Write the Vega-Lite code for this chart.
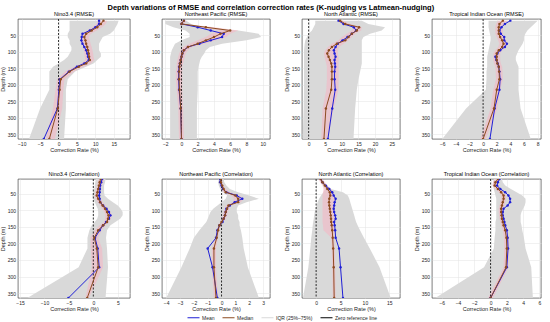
{
"$schema": "https://vega.github.io/schema/vega-lite/v6.json",
"padding": {"left": 0, "top": 3, "right": 2, "bottom": 2},
"background": "white",
"title": {"text": "Depth variations of RMSE and correlation correction rates (K-nudging vs Latmean-nudging)", "fontSize": 7.5, "fontWeight": "bold", "font": "Liberation Sans", "anchor": "middle", "offset": 0.5, "color": "#000000"},
"config": {
  "font": "Liberation Sans",
  "view": {"stroke": "#262626", "strokeWidth": 0.6},
  "axis": {"labelFontSize": 5, "titleFontSize": 5.5, "titleFontWeight": "normal", "labelColor": "#262626", "titleColor": "#262626", "grid": true, "gridColor": "#e2e2e2", "gridWidth": 0.5, "domain": false, "ticks": false, "labelPadding": 2.5, "titlePadding": 1.5, "labelOverlap": false, "labelBound": false, "tickCount": 20},
  "axisX": {"labelPadding": 2, "titlePadding": 1.5},
  "title": {"fontSize": 5.5, "fontWeight": "normal", "offset": 1, "color": "#000000"}
},
"datasets": {"d": [
{"p":"A","d":5,"mean":11,"med":12.2,"q25":3,"q75":16.3,"lo":10.8,"hi":13.2},
{"p":"A","d":15,"mean":11,"med":11.5,"q25":3,"q75":16,"lo":10.2,"hi":12.8},
{"p":"A","d":25,"mean":10,"med":10.5,"q25":3,"q75":15.5,"lo":9.2,"hi":11.8},
{"p":"A","d":35,"mean":8.5,"med":9,"q25":3,"q75":15,"lo":7.8,"hi":10.4},
{"p":"A","d":45,"mean":6.5,"med":7.5,"q25":2.5,"q75":14,"lo":6.3,"hi":8.8},
{"p":"A","d":55,"mean":6.3,"med":7,"q25":2.5,"q75":12,"lo":5.9,"hi":8.2},
{"p":"A","d":65,"mean":6.2,"med":7.3,"q25":3,"q75":11.5,"lo":6.1,"hi":8.5},
{"p":"A","d":75,"mean":6.5,"med":7.5,"q25":3,"q75":11,"lo":6.3,"hi":8.7},
{"p":"A","d":85,"mean":7,"med":7.8,"q25":3.5,"q75":11,"lo":6.6,"hi":9},
{"p":"A","d":95,"mean":7.5,"med":8,"q25":3.5,"q75":11,"lo":6.9,"hi":9.2},
{"p":"A","d":105,"mean":7.8,"med":8.2,"q25":3,"q75":11.5,"lo":7,"hi":9.4},
{"p":"A","d":115,"mean":8,"med":8.3,"q25":2.5,"q75":11.5,"lo":7.1,"hi":9.5},
{"p":"A","d":125,"mean":8.2,"med":8.5,"q25":1.5,"q75":10.5,"lo":7.3,"hi":9.7},
{"p":"A","d":135,"mean":7,"med":7.5,"q25":0,"q75":9.5,"lo":6.2,"hi":8.8},
{"p":"A","d":145,"mean":5,"med":5.5,"q25":-1.5,"q75":7.5,"lo":4.2,"hi":6.8},
{"p":"A","d":160,"mean":2.8,"med":3,"q25":-2.5,"q75":4.5,"lo":1.8,"hi":4.2},
{"p":"A","d":183,"mean":0.4,"med":0.6,"q25":-2.5,"q75":2.5,"lo":-0.4,"hi":1.6},
{"p":"A","d":215,"mean":0.1,"med":0.3,"q25":-2.5,"q75":2,"lo":-0.8,"hi":1.3},
{"p":"A","d":272,"mean":-0.3,"med":-0.2,"q25":-5,"q75":2,"lo":-1.5,"hi":1},
{"p":"A","d":365,"mean":-4,"med":-2.5,"q25":-8,"q75":1.5,"lo":-3.5,"hi":-1},
{"p":"B","d":5,"mean":0.3,"med":0.3,"q25":-2,"q75":0.6,"lo":0,"hi":0.6},
{"p":"B","d":15,"mean":0,"med":0,"q25":-2,"q75":1.2,"lo":-0.3,"hi":0.4},
{"p":"B","d":25,"mean":2,"med":3,"q25":-1,"q75":2.5,"lo":2,"hi":4},
{"p":"B","d":35,"mean":3.6,"med":6,"q25":0.5,"q75":7,"lo":4.8,"hi":7},
{"p":"B","d":45,"mean":5.2,"med":4.8,"q25":1,"q75":9.5,"lo":3.6,"hi":6},
{"p":"B","d":55,"mean":5,"med":4,"q25":1,"q75":9.8,"lo":3,"hi":5.5},
{"p":"B","d":65,"mean":3.6,"med":3,"q25":0,"q75":8,"lo":2,"hi":4.2},
{"p":"B","d":75,"mean":2.2,"med":2,"q25":-0.8,"q75":5,"lo":1,"hi":2.8},
{"p":"B","d":85,"mean":0.8,"med":0.8,"q25":-1,"q75":3.5,"lo":0.2,"hi":1.3},
{"p":"B","d":95,"mean":0.3,"med":0.3,"q25":-1.2,"q75":3,"lo":-0.1,"hi":0.8},
{"p":"B","d":105,"mean":0.1,"med":0.1,"q25":-1.3,"q75":2.8,"lo":-0.3,"hi":0.5},
{"p":"B","d":115,"mean":0,"med":0,"q25":-1.4,"q75":2.5,"lo":-0.4,"hi":0.4},
{"p":"B","d":125,"mean":-0.1,"med":-0.1,"q25":-1.4,"q75":2.3,"lo":-0.5,"hi":0.3},
{"p":"B","d":135,"mean":-0.2,"med":-0.2,"q25":-1.4,"q75":2.2,"lo":-0.6,"hi":0.2},
{"p":"B","d":145,"mean":-0.3,"med":-0.25,"q25":-1.4,"q75":2.1,"lo":-0.6,"hi":0.1},
{"p":"B","d":160,"mean":-0.35,"med":-0.3,"q25":-1.4,"q75":2,"lo":-0.7,"hi":0.1},
{"p":"B","d":183,"mean":-0.35,"med":-0.3,"q25":-1.4,"q75":2,"lo":-0.7,"hi":0.1},
{"p":"B","d":215,"mean":-0.3,"med":-0.25,"q25":-1.4,"q75":2,"lo":-0.6,"hi":0.1},
{"p":"B","d":272,"mean":-0.1,"med":-0.1,"q25":-1.4,"q75":1.9,"lo":-0.4,"hi":0.2},
{"p":"B","d":365,"mean":0,"med":0,"q25":-1.4,"q75":1.9,"lo":-0.3,"hi":0.3},
{"p":"C","d":5,"mean":9,"med":9.5,"q25":2,"q75":16,"lo":8.5,"hi":10.5},
{"p":"C","d":15,"mean":10.5,"med":11,"q25":2,"q75":18,"lo":10,"hi":12.5},
{"p":"C","d":25,"mean":13.6,"med":15.2,"q25":1.5,"q75":23,"lo":13.5,"hi":16},
{"p":"C","d":35,"mean":14.3,"med":14.5,"q25":1,"q75":22,"lo":13,"hi":15.8},
{"p":"C","d":45,"mean":13,"med":13,"q25":0,"q75":18.5,"lo":11.5,"hi":14},
{"p":"C","d":55,"mean":11.7,"med":12,"q25":-0.5,"q75":16.5,"lo":10,"hi":13},
{"p":"C","d":65,"mean":10.2,"med":11,"q25":-1,"q75":16,"lo":9,"hi":12},
{"p":"C","d":75,"mean":8.8,"med":8.5,"q25":-1.2,"q75":16,"lo":7,"hi":10.5},
{"p":"C","d":85,"mean":8.1,"med":7,"q25":-1.3,"q75":16,"lo":5.8,"hi":9.2},
{"p":"C","d":95,"mean":7.6,"med":6.1,"q25":-1.4,"q75":16,"lo":5,"hi":8.8},
{"p":"C","d":105,"mean":7.8,"med":5.6,"q25":-1.4,"q75":16,"lo":4.6,"hi":8.8},
{"p":"C","d":115,"mean":8.1,"med":6,"q25":-1.4,"q75":16,"lo":4.8,"hi":9},
{"p":"C","d":125,"mean":7.8,"med":6.4,"q25":-1.4,"q75":16,"lo":5,"hi":9},
{"p":"C","d":135,"mean":7.9,"med":6.8,"q25":-1.4,"q75":16,"lo":5.3,"hi":9},
{"p":"C","d":145,"mean":8,"med":7,"q25":-1.4,"q75":15.8,"lo":5.5,"hi":9},
{"p":"C","d":160,"mean":7.8,"med":7,"q25":-1.4,"q75":15.5,"lo":5.5,"hi":9},
{"p":"C","d":183,"mean":7.8,"med":7,"q25":-1.4,"q75":15,"lo":5.5,"hi":9},
{"p":"C","d":215,"mean":8,"med":6.8,"q25":-1.4,"q75":14.5,"lo":5.3,"hi":9},
{"p":"C","d":272,"mean":7.1,"med":5.2,"q25":-1.5,"q75":14,"lo":4.2,"hi":7.5},
{"p":"C","d":365,"mean":5.8,"med":4.6,"q25":-1.8,"q75":13.5,"lo":3.8,"hi":5.8},
{"p":"D","d":5,"mean":4,"med":2.9,"q25":0.8,"q75":8,"lo":2.2,"hi":3.6},
{"p":"D","d":15,"mean":3.2,"med":2.4,"q25":0.8,"q75":7.5,"lo":1.9,"hi":3},
{"p":"D","d":25,"mean":2.7,"med":2.3,"q25":0.8,"q75":7,"lo":1.8,"hi":2.9},
{"p":"D","d":35,"mean":2.4,"med":2.3,"q25":0.9,"q75":6.5,"lo":1.8,"hi":2.9},
{"p":"D","d":45,"mean":2.6,"med":2.3,"q25":1,"q75":6.2,"lo":1.8,"hi":2.9},
{"p":"D","d":55,"mean":3.1,"med":2.5,"q25":1.1,"q75":6,"lo":2,"hi":3.1},
{"p":"D","d":65,"mean":3.1,"med":2.8,"q25":1.1,"q75":6,"lo":2.2,"hi":3.4},
{"p":"D","d":75,"mean":3.5,"med":3,"q25":1,"q75":5.8,"lo":2.4,"hi":3.6},
{"p":"D","d":85,"mean":3.2,"med":2.8,"q25":0.9,"q75":5.5,"lo":2.2,"hi":3.4},
{"p":"D","d":95,"mean":2.5,"med":2.3,"q25":0.8,"q75":5.2,"lo":1.8,"hi":2.8},
{"p":"D","d":105,"mean":2.1,"med":2,"q25":0.7,"q75":5,"lo":1.5,"hi":2.5},
{"p":"D","d":115,"mean":1.8,"med":2,"q25":0.6,"q75":4.8,"lo":1.5,"hi":2.5},
{"p":"D","d":125,"mean":1.95,"med":2,"q25":0.6,"q75":4.8,"lo":1.5,"hi":2.5},
{"p":"D","d":135,"mean":2.15,"med":2.1,"q25":0.6,"q75":5,"lo":1.6,"hi":2.6},
{"p":"D","d":145,"mean":2.3,"med":2.3,"q25":0.6,"q75":5.2,"lo":1.8,"hi":2.8},
{"p":"D","d":160,"mean":2.4,"med":2.35,"q25":0.5,"q75":5.2,"lo":1.85,"hi":2.85},
{"p":"D","d":183,"mean":2.5,"med":2.4,"q25":0.5,"q75":5.2,"lo":1.9,"hi":2.9},
{"p":"D","d":215,"mean":2.4,"med":2,"q25":0.4,"q75":5.2,"lo":1.5,"hi":2.5},
{"p":"D","d":272,"mean":1.7,"med":1.6,"q25":-2.5,"q75":5.5,"lo":1.1,"hi":2.1},
{"p":"D","d":365,"mean":1,"med":0,"q25":-6,"q75":7,"lo":-0.4,"hi":0.4},
{"p":"E","d":5,"mean":1.8,"med":1.5,"q25":0.5,"q75":2.5,"lo":1.1,"hi":2.2},
{"p":"E","d":15,"mean":1.6,"med":1.3,"q25":0.4,"q75":2.4,"lo":0.9,"hi":2},
{"p":"E","d":25,"mean":1.4,"med":1.15,"q25":0.3,"q75":2.2,"lo":0.8,"hi":1.7},
{"p":"E","d":35,"mean":1.35,"med":1,"q25":0.2,"q75":2.2,"lo":0.6,"hi":1.5},
{"p":"E","d":45,"mean":1.3,"med":0.85,"q25":0,"q75":2.2,"lo":0.4,"hi":1.3},
{"p":"E","d":55,"mean":1.2,"med":0.7,"q25":-0.2,"q75":2.3,"lo":0.3,"hi":1.2},
{"p":"E","d":65,"mean":1.3,"med":1,"q25":0,"q75":3,"lo":0.5,"hi":1.5},
{"p":"E","d":75,"mean":1.4,"med":1.4,"q25":0.3,"q75":4,"lo":0.9,"hi":1.9},
{"p":"E","d":85,"mean":2,"med":1.9,"q25":0.6,"q75":5,"lo":1.4,"hi":2.5},
{"p":"E","d":95,"mean":2.7,"med":2.4,"q25":0.9,"q75":5.6,"lo":1.8,"hi":3},
{"p":"E","d":105,"mean":3.2,"med":2.8,"q25":1,"q75":6,"lo":2.3,"hi":3.5},
{"p":"E","d":115,"mean":3.5,"med":3.1,"q25":1,"q75":6,"lo":2.5,"hi":3.8},
{"p":"E","d":125,"mean":3.2,"med":3,"q25":0.8,"q75":5.5,"lo":2.4,"hi":3.6},
{"p":"E","d":135,"mean":2.6,"med":2.8,"q25":0.3,"q75":4.5,"lo":2.2,"hi":3.2},
{"p":"E","d":145,"mean":2,"med":2,"q25":-0.3,"q75":3.5,"lo":1.3,"hi":2.5},
{"p":"E","d":160,"mean":1.3,"med":1,"q25":-0.8,"q75":2.8,"lo":0.3,"hi":1.7},
{"p":"E","d":183,"mean":0.35,"med":0.2,"q25":-1.2,"q75":2.6,"lo":-0.6,"hi":1},
{"p":"E","d":215,"mean":0.9,"med":0.7,"q25":-1.2,"q75":2.8,"lo":-0.5,"hi":1.8},
{"p":"E","d":272,"mean":1.2,"med":1,"q25":-3,"q75":3,"lo":-0.3,"hi":2},
{"p":"E","d":365,"mean":-5.1,"med":-1.25,"q25":-13.5,"q75":2.5,"lo":-1.6,"hi":-0.9},
{"p":"F","d":5,"mean":-0.1,"med":-0.05,"q25":-0.2,"q75":0.15,"lo":-0.15,"hi":0.05},
{"p":"F","d":15,"mean":-0.1,"med":-0.05,"q25":-0.25,"q75":0.2,"lo":-0.15,"hi":0.05},
{"p":"F","d":25,"mean":0,"med":0.05,"q25":-0.2,"q75":0.35,"lo":-0.05,"hi":0.15},
{"p":"F","d":35,"mean":0.1,"med":0.15,"q25":-0.1,"q75":0.6,"lo":0,"hi":0.3},
{"p":"F","d":45,"mean":0.35,"med":0.3,"q25":0.1,"q75":1.2,"lo":0.15,"hi":0.6},
{"p":"F","d":55,"mean":1.1,"med":1,"q25":0.4,"q75":2,"lo":0.7,"hi":1.3},
{"p":"F","d":65,"mean":1.5,"med":1.2,"q25":0.3,"q75":2.7,"lo":0.9,"hi":1.6},
{"p":"F","d":75,"mean":0.95,"med":1.2,"q25":0,"q75":1.8,"lo":0.8,"hi":1.4},
{"p":"F","d":85,"mean":0.6,"med":0.5,"q25":-0.3,"q75":1.2,"lo":0.3,"hi":0.7},
{"p":"F","d":95,"mean":0.35,"med":0.4,"q25":-0.6,"q75":1.1,"lo":0.25,"hi":0.55},
{"p":"F","d":105,"mean":0.3,"med":0.3,"q25":-0.8,"q75":1.1,"lo":0.15,"hi":0.45},
{"p":"F","d":115,"mean":0.25,"med":0.25,"q25":-0.9,"q75":1.2,"lo":0.1,"hi":0.4},
{"p":"F","d":125,"mean":0.15,"med":0.15,"q25":-1,"q75":1.2,"lo":0,"hi":0.3},
{"p":"F","d":135,"mean":0.07,"med":0,"q25":-1.1,"q75":1.3,"lo":-0.1,"hi":0.1},
{"p":"F","d":145,"mean":-0.15,"med":-0.15,"q25":-1.3,"q75":1.3,"lo":-0.25,"hi":-0.05},
{"p":"F","d":160,"mean":-0.3,"med":-0.25,"q25":-1.6,"q75":1.4,"lo":-0.35,"hi":-0.15},
{"p":"F","d":183,"mean":-0.4,"med":-0.35,"q25":-2,"q75":1.5,"lo":-0.45,"hi":-0.25},
{"p":"F","d":215,"mean":-1,"med":-0.55,"q25":-2.3,"q75":1.6,"lo":-0.7,"hi":-0.4},
{"p":"F","d":272,"mean":-0.65,"med":-0.55,"q25":-2.9,"q75":1.9,"lo":-0.7,"hi":-0.4},
{"p":"F","d":365,"mean":-0.3,"med":-0.4,"q25":-4,"q75":2.7,"lo":-0.55,"hi":-0.25},
{"p":"G","d":5,"mean":1,"med":0.9,"q25":0.8,"q75":1.2,"lo":0.5,"hi":1.3},
{"p":"G","d":15,"mean":1.3,"med":1.3,"q25":1,"q75":1.6,"lo":0.8,"hi":1.8},
{"p":"G","d":25,"mean":2,"med":1.8,"q25":1.4,"q75":2.2,"lo":1.3,"hi":2.3},
{"p":"G","d":35,"mean":2.7,"med":2.3,"q25":1.8,"q75":3,"lo":1.5,"hi":3},
{"p":"G","d":45,"mean":3.3,"med":2.8,"q25":1.5,"q75":5.5,"lo":1.4,"hi":3.6},
{"p":"G","d":55,"mean":3.6,"med":2.9,"q25":1,"q75":6.5,"lo":1.3,"hi":3.8},
{"p":"G","d":65,"mean":4,"med":2.7,"q25":0.6,"q75":6.8,"lo":1.3,"hi":3.8},
{"p":"G","d":75,"mean":3.8,"med":2.65,"q25":0.3,"q75":7,"lo":1.3,"hi":3.8},
{"p":"G","d":85,"mean":3.7,"med":2.7,"q25":0.1,"q75":7.2,"lo":1.3,"hi":3.8},
{"p":"G","d":95,"mean":3.6,"med":2.8,"q25":-0.1,"q75":7.4,"lo":1.3,"hi":3.8},
{"p":"G","d":105,"mean":3.7,"med":2.9,"q25":-0.3,"q75":7.6,"lo":1.3,"hi":3.8},
{"p":"G","d":115,"mean":3.9,"med":3,"q25":-0.4,"q75":7.8,"lo":1.3,"hi":3.8},
{"p":"G","d":125,"mean":4,"med":3.05,"q25":-0.5,"q75":8,"lo":1.3,"hi":3.8},
{"p":"G","d":135,"mean":3.7,"med":3.1,"q25":-0.6,"q75":8.2,"lo":1.3,"hi":3.8},
{"p":"G","d":145,"mean":3.8,"med":3.2,"q25":-0.7,"q75":8.5,"lo":1.4,"hi":3.8},
{"p":"G","d":160,"mean":3.9,"med":3.3,"q25":-0.8,"q75":9,"lo":1.5,"hi":3.8},
{"p":"G","d":183,"mean":4,"med":3.4,"q25":-1,"q75":9.8,"lo":3.1,"hi":3.7},
{"p":"G","d":215,"mean":4.7,"med":3.5,"q25":-1.2,"q75":11,"lo":3.2,"hi":3.8},
{"p":"G","d":272,"mean":5,"med":3.6,"q25":-1.6,"q75":13,"lo":3.3,"hi":3.9},
{"p":"G","d":365,"mean":5.5,"med":3.7,"q25":-2.7,"q75":15.3,"lo":3.4,"hi":4},
{"p":"H","d":5,"mean":1.1,"med":0.9,"q25":0.4,"q75":1.4,"lo":0.6,"hi":1.2},
{"p":"H","d":15,"mean":0.9,"med":0.6,"q25":0.3,"q75":1.5,"lo":0.3,"hi":0.9},
{"p":"H","d":25,"mean":0.8,"med":0.5,"q25":0.3,"q75":1.8,"lo":0.2,"hi":0.8},
{"p":"H","d":35,"mean":1.2,"med":0.9,"q25":0.4,"q75":2.5,"lo":0.6,"hi":1.2},
{"p":"H","d":45,"mean":1.8,"med":1.3,"q25":0.5,"q75":3.2,"lo":1,"hi":1.6},
{"p":"H","d":55,"mean":2.2,"med":1.6,"q25":0.6,"q75":3.9,"lo":1.3,"hi":1.9},
{"p":"H","d":65,"mean":2.4,"med":1.6,"q25":0.7,"q75":4.3,"lo":1.3,"hi":1.9},
{"p":"H","d":75,"mean":2.4,"med":1.5,"q25":0.7,"q75":4.3,"lo":1.2,"hi":1.8},
{"p":"H","d":85,"mean":2.1,"med":1.4,"q25":0.7,"q75":4.2,"lo":1.1,"hi":1.7},
{"p":"H","d":95,"mean":1.6,"med":1.3,"q25":0.7,"q75":4,"lo":1,"hi":1.6},
{"p":"H","d":105,"mean":1.5,"med":1.3,"q25":0.7,"q75":3.8,"lo":1,"hi":1.6},
{"p":"H","d":115,"mean":1.5,"med":1.35,"q25":0.7,"q75":3.7,"lo":1.05,"hi":1.65},
{"p":"H","d":125,"mean":1.6,"med":1.4,"q25":0.7,"q75":3.7,"lo":1.1,"hi":1.7},
{"p":"H","d":135,"mean":1.7,"med":1.5,"q25":0.6,"q75":3.7,"lo":1.2,"hi":1.8},
{"p":"H","d":145,"mean":1.8,"med":1.6,"q25":0.6,"q75":3.8,"lo":1.3,"hi":1.9},
{"p":"H","d":160,"mean":2,"med":1.8,"q25":0.6,"q75":3.9,"lo":1.5,"hi":2.1},
{"p":"H","d":183,"mean":2.1,"med":1.95,"q25":0.5,"q75":4.1,"lo":1.65,"hi":2.25},
{"p":"H","d":215,"mean":2.15,"med":2,"q25":0.4,"q75":4.3,"lo":1.7,"hi":2.3},
{"p":"H","d":272,"mean":2,"med":1.9,"q25":-0.8,"q75":5,"lo":1.6,"hi":2.2},
{"p":"H","d":365,"mean":0,"med":0,"q25":-6.8,"q75":5.2,"lo":-0.3,"hi":0.3}
]},
"data": {"name": "d"},
"columns": 4,
"spacing": {"row": 17, "column": 13},
"concat": [
  {"title": "Nino3.4 (RMSE)", "width": 112, "height": 120, "transform": [{"filter": "datum.p == 'A'"}],
   "layer": [
    {"mark": {"type": "area", "opacity": 1, "clip": true}, "encoding": {
      "y": {"field": "d", "type": "quantitative", "scale": {"domain": [0, 365], "reverse": true, "nice": false, "zero": false}, "axis": {"values": [50,100,150,200,250,300,350], "title": "Depth (m)", "tickCount": 20, "format": "d"}},
      "x": {"field": "q25", "type": "quantitative", "scale": {"domain": [-11, 19.4], "nice": false, "zero": false}, "axis": {"values": [-10,-5,0,5,10,15], "title": "Correction Rate (%)", "tickCount": 20, "format": "d"}},
      "x2": {"field": "q75"},
      "color": {"datum": "IQR (25%–75%)", "scale": {"domain": ["Mean", "Median", "IQR (25%–75%)", "Zero reference line"], "range": ["#1f1fd6", "#8c4b20", "#d9d9d9", "#000000"]},
        "legend": {"orient": "none", "legendX": 169, "legendY": 292, "direction": "horizontal", "columns": 4, "title": null, "symbolType": "stroke", "symbolSize": 144, "symbolStrokeWidth": 1, "labelFontSize": 5, "labelColor": "#262626", "columnPadding": 5, "labelOffset": 2,
          "encode": {"symbols": {"update": {
            "shape": {"signal": "datum.value === 'Zero reference line' ? 'M-1,0H1' : ((datum.value === 'Mean' || datum.value === 'Median') ? 'M-1,0H1M-0.2,0A0.2,0.2,0,1,0,0.2,0A0.2,0.2,0,1,0,-0.2,0' : 'M-1,-0.4H1V0.4H-1Z')"},
            "fill": {"signal": "datum.value === 'Mean' ? '#1f1fd6' : (datum.value === 'Median' ? '#8c4b20' : (datum.value === 'Zero reference line' ? 'transparent' : '#d9d9d9'))"},
            "stroke": {"signal": "datum.value === 'Mean' ? '#1f1fd6' : (datum.value === 'Median' ? '#8c4b20' : (datum.value === 'Zero reference line' ? '#000000' : '#d0d0d0'))"},
            "strokeDash": {"signal": "datum.value === 'Zero reference line' ? [1.5, 1.5] : [1, 0]"},
            "opacity": {"value": 1}, "fillOpacity": {"value": 1}, "strokeOpacity": {"value": 1}}}}}}}},
    {"mark": {"type": "area", "color": "#f5b5c3", "opacity": 0.55, "clip": true}, "encoding": {"y": {"field": "d", "type": "quantitative"}, "x": {"field": "lo", "type": "quantitative"}, "x2": {"field": "hi"}}},
    {"transform": [{"filter": "datum.d == 5"}], "mark": {"type": "rule", "strokeDash": [2, 1.5], "strokeWidth": 0.8}, "encoding": {"x": {"datum": 0}, "color": {"datum": "Zero reference line"}}},
    {"mark": {"type": "line", "strokeWidth": 1, "clip": true, "point": {"filled": true, "size": 6}}, "encoding": {"y": {"field": "d", "type": "quantitative"}, "x": {"field": "mean", "type": "quantitative"}, "order": {"field": "d"}, "color": {"datum": "Mean"}}},
    {"mark": {"type": "line", "strokeWidth": 1, "clip": true, "point": {"filled": true, "size": 6}}, "encoding": {"y": {"field": "d", "type": "quantitative"}, "x": {"field": "med", "type": "quantitative"}, "order": {"field": "d"}, "color": {"datum": "Median"}}}
   ]},
  {"title": "Northeast Pacific (RMSE)", "width": 108, "height": 120, "transform": [{"filter": "datum.p == 'B'"}],
   "layer": [
    {"mark": {"type": "area", "opacity": 1, "clip": true}, "encoding": {
      "y": {"field": "d", "type": "quantitative", "scale": {"domain": [0, 365], "reverse": true, "nice": false, "zero": false}, "axis": {"values": [50,100,150,200,250,300,350], "title": "Depth (m)", "tickCount": 20, "format": "d"}},
      "x": {"field": "q25", "type": "quantitative", "scale": {"domain": [-2.4, 10.9], "nice": false, "zero": false}, "axis": {"values": [-2,0,2,4,6,8,10], "title": "Correction Rate (%)", "tickCount": 20, "format": "d"}},
      "x2": {"field": "q75"}, "color": {"datum": "IQR (25%–75%)"}}},
    {"mark": {"type": "area", "color": "#f5b5c3", "opacity": 0.55, "clip": true}, "encoding": {"y": {"field": "d", "type": "quantitative"}, "x": {"field": "lo", "type": "quantitative"}, "x2": {"field": "hi"}}},
    {"transform": [{"filter": "datum.d == 5"}], "mark": {"type": "rule", "strokeDash": [2, 1.5], "strokeWidth": 0.8}, "encoding": {"x": {"datum": 0}, "color": {"datum": "Zero reference line"}}},
    {"mark": {"type": "line", "strokeWidth": 1, "clip": true, "point": {"filled": true, "size": 6}}, "encoding": {"y": {"field": "d", "type": "quantitative"}, "x": {"field": "mean", "type": "quantitative"}, "order": {"field": "d"}, "color": {"datum": "Mean"}}},
    {"mark": {"type": "line", "strokeWidth": 1, "clip": true, "point": {"filled": true, "size": 6}}, "encoding": {"y": {"field": "d", "type": "quantitative"}, "x": {"field": "med", "type": "quantitative"}, "order": {"field": "d"}, "color": {"datum": "Median"}}}
   ]},
  {"title": "North Atlantic (RMSE)", "width": 98, "height": 120, "transform": [{"filter": "datum.p == 'C'"}],
   "layer": [
    {"mark": {"type": "area", "opacity": 1, "clip": true}, "encoding": {
      "y": {"field": "d", "type": "quantitative", "scale": {"domain": [0, 365], "reverse": true, "nice": false, "zero": false}, "axis": {"values": [50,100,150,200,250,300,350], "title": "Depth (m)", "tickCount": 20, "format": "d"}},
      "x": {"field": "q25", "type": "quantitative", "scale": {"domain": [-2, 27.5], "nice": false, "zero": false}, "axis": {"values": [0,5,10,15,20,25], "title": "Correction Rate (%)", "tickCount": 20, "format": "d"}},
      "x2": {"field": "q75"}, "color": {"datum": "IQR (25%–75%)"}}},
    {"mark": {"type": "area", "color": "#f5b5c3", "opacity": 0.55, "clip": true}, "encoding": {"y": {"field": "d", "type": "quantitative"}, "x": {"field": "lo", "type": "quantitative"}, "x2": {"field": "hi"}}},
    {"transform": [{"filter": "datum.d == 5"}], "mark": {"type": "rule", "strokeDash": [2, 1.5], "strokeWidth": 0.8}, "encoding": {"x": {"datum": 0}, "color": {"datum": "Zero reference line"}}},
    {"mark": {"type": "line", "strokeWidth": 1, "clip": true, "point": {"filled": true, "size": 6}}, "encoding": {"y": {"field": "d", "type": "quantitative"}, "x": {"field": "mean", "type": "quantitative"}, "order": {"field": "d"}, "color": {"datum": "Mean"}}},
    {"mark": {"type": "line", "strokeWidth": 1, "clip": true, "point": {"filled": true, "size": 6}}, "encoding": {"y": {"field": "d", "type": "quantitative"}, "x": {"field": "med", "type": "quantitative"}, "order": {"field": "d"}, "color": {"datum": "Median"}}}
   ]},
  {"title": "Tropical Indian Ocean (RMSE)", "width": 109, "height": 120, "transform": [{"filter": "datum.p == 'D'"}],
   "layer": [
    {"mark": {"type": "area", "opacity": 1, "clip": true}, "encoding": {
      "y": {"field": "d", "type": "quantitative", "scale": {"domain": [0, 365], "reverse": true, "nice": false, "zero": false}, "axis": {"values": [50,100,150,200,250,300,350], "title": "Depth (m)", "tickCount": 20, "format": "d"}},
      "x": {"field": "q25", "type": "quantitative", "scale": {"domain": [-7.5, 8.5], "nice": false, "zero": false}, "axis": {"values": [-6,-4,-2,0,2,4,6,8], "title": "Correction Rate (%)", "tickCount": 20, "format": "d"}},
      "x2": {"field": "q75"}, "color": {"datum": "IQR (25%–75%)"}}},
    {"mark": {"type": "area", "color": "#f5b5c3", "opacity": 0.55, "clip": true}, "encoding": {"y": {"field": "d", "type": "quantitative"}, "x": {"field": "lo", "type": "quantitative"}, "x2": {"field": "hi"}}},
    {"transform": [{"filter": "datum.d == 5"}], "mark": {"type": "rule", "strokeDash": [2, 1.5], "strokeWidth": 0.8}, "encoding": {"x": {"datum": 0}, "color": {"datum": "Zero reference line"}}},
    {"mark": {"type": "line", "strokeWidth": 1, "clip": true, "point": {"filled": true, "size": 6}}, "encoding": {"y": {"field": "d", "type": "quantitative"}, "x": {"field": "mean", "type": "quantitative"}, "order": {"field": "d"}, "color": {"datum": "Mean"}}},
    {"mark": {"type": "line", "strokeWidth": 1, "clip": true, "point": {"filled": true, "size": 6}}, "encoding": {"y": {"field": "d", "type": "quantitative"}, "x": {"field": "med", "type": "quantitative"}, "order": {"field": "d"}, "color": {"datum": "Median"}}}
   ]},
  {"title": "Nino3.4 (Correlation)", "width": 112, "height": 119, "transform": [{"filter": "datum.p == 'E'"}],
   "layer": [
    {"mark": {"type": "area", "opacity": 1, "clip": true}, "encoding": {
      "y": {"field": "d", "type": "quantitative", "scale": {"domain": [5, 365], "reverse": true, "nice": false, "zero": false}, "axis": {"values": [50,100,150,200,250,300,350], "title": "Depth (m)", "tickCount": 20, "format": "d"}},
      "x": {"field": "q25", "type": "quantitative", "scale": {"domain": [-15.4, 7.5], "nice": false, "zero": false}, "axis": {"values": [-15,-10,-5,0,5], "title": "Correction Rate (%)", "tickCount": 20, "format": "d"}},
      "x2": {"field": "q75"}, "color": {"datum": "IQR (25%–75%)"}}},
    {"mark": {"type": "area", "color": "#f5b5c3", "opacity": 0.55, "clip": true}, "encoding": {"y": {"field": "d", "type": "quantitative"}, "x": {"field": "lo", "type": "quantitative"}, "x2": {"field": "hi"}}},
    {"transform": [{"filter": "datum.d == 5"}], "mark": {"type": "rule", "strokeDash": [2, 1.5], "strokeWidth": 0.8}, "encoding": {"x": {"datum": 0}, "color": {"datum": "Zero reference line"}}},
    {"mark": {"type": "line", "strokeWidth": 1, "clip": true, "point": {"filled": true, "size": 6}}, "encoding": {"y": {"field": "d", "type": "quantitative"}, "x": {"field": "mean", "type": "quantitative"}, "order": {"field": "d"}, "color": {"datum": "Mean"}}},
    {"mark": {"type": "line", "strokeWidth": 1, "clip": true, "point": {"filled": true, "size": 6}}, "encoding": {"y": {"field": "d", "type": "quantitative"}, "x": {"field": "med", "type": "quantitative"}, "order": {"field": "d"}, "color": {"datum": "Median"}}}
   ]},
  {"title": "Northeast Pacific (Correlation)", "width": 108, "height": 119, "transform": [{"filter": "datum.p == 'F'"}],
   "layer": [
    {"mark": {"type": "area", "opacity": 1, "clip": true}, "encoding": {
      "y": {"field": "d", "type": "quantitative", "scale": {"domain": [5, 365], "reverse": true, "nice": false, "zero": false}, "axis": {"values": [50,100,150,200,250,300,350], "title": "Depth (m)", "tickCount": 20, "format": "d"}},
      "x": {"field": "q25", "type": "quantitative", "scale": {"domain": [-4.3, 3.5], "nice": false, "zero": false}, "axis": {"values": [-4,-3,-2,-1,0,1,2,3], "title": "Correction Rate (%)", "tickCount": 20, "format": "d"}},
      "x2": {"field": "q75"}, "color": {"datum": "IQR (25%–75%)"}}},
    {"mark": {"type": "area", "color": "#f5b5c3", "opacity": 0.55, "clip": true}, "encoding": {"y": {"field": "d", "type": "quantitative"}, "x": {"field": "lo", "type": "quantitative"}, "x2": {"field": "hi"}}},
    {"transform": [{"filter": "datum.d == 5"}], "mark": {"type": "rule", "strokeDash": [2, 1.5], "strokeWidth": 0.8}, "encoding": {"x": {"datum": 0}, "color": {"datum": "Zero reference line"}}},
    {"mark": {"type": "line", "strokeWidth": 1, "clip": true, "point": {"filled": true, "size": 6}}, "encoding": {"y": {"field": "d", "type": "quantitative"}, "x": {"field": "mean", "type": "quantitative"}, "order": {"field": "d"}, "color": {"datum": "Mean"}}},
    {"mark": {"type": "line", "strokeWidth": 1, "clip": true, "point": {"filled": true, "size": 6}}, "encoding": {"y": {"field": "d", "type": "quantitative"}, "x": {"field": "med", "type": "quantitative"}, "order": {"field": "d"}, "color": {"datum": "Median"}}}
   ]},
  {"title": "North Atlantic (Correlation)", "width": 98, "height": 119, "transform": [{"filter": "datum.p == 'G'"}],
   "layer": [
    {"mark": {"type": "area", "opacity": 1, "clip": true}, "encoding": {
      "y": {"field": "d", "type": "quantitative", "scale": {"domain": [5, 365], "reverse": true, "nice": false, "zero": false}, "axis": {"values": [50,100,150,200,250,300,350], "title": "Depth (m)", "tickCount": 20, "format": "d"}},
      "x": {"field": "q25", "type": "quantitative", "scale": {"domain": [-2.9, 17.2], "nice": false, "zero": false}, "axis": {"values": [0,5,10,15], "title": "Correction Rate (%)", "tickCount": 20, "format": "d"}},
      "x2": {"field": "q75"}, "color": {"datum": "IQR (25%–75%)"}}},
    {"mark": {"type": "area", "color": "#f5b5c3", "opacity": 0.55, "clip": true}, "encoding": {"y": {"field": "d", "type": "quantitative"}, "x": {"field": "lo", "type": "quantitative"}, "x2": {"field": "hi"}}},
    {"transform": [{"filter": "datum.d == 5"}], "mark": {"type": "rule", "strokeDash": [2, 1.5], "strokeWidth": 0.8}, "encoding": {"x": {"datum": 0}, "color": {"datum": "Zero reference line"}}},
    {"mark": {"type": "line", "strokeWidth": 1, "clip": true, "point": {"filled": true, "size": 6}}, "encoding": {"y": {"field": "d", "type": "quantitative"}, "x": {"field": "mean", "type": "quantitative"}, "order": {"field": "d"}, "color": {"datum": "Mean"}}},
    {"mark": {"type": "line", "strokeWidth": 1, "clip": true, "point": {"filled": true, "size": 6}}, "encoding": {"y": {"field": "d", "type": "quantitative"}, "x": {"field": "med", "type": "quantitative"}, "order": {"field": "d"}, "color": {"datum": "Median"}}}
   ]},
  {"title": "Tropical Indian Ocean (Correlation)", "width": 109, "height": 119, "transform": [{"filter": "datum.p == 'H'"}],
   "layer": [
    {"mark": {"type": "area", "opacity": 1, "clip": true}, "encoding": {
      "y": {"field": "d", "type": "quantitative", "scale": {"domain": [5, 365], "reverse": true, "nice": false, "zero": false}, "axis": {"values": [50,100,150,200,250,300,350], "title": "Depth (m)", "tickCount": 20, "format": "d"}},
      "x": {"field": "q25", "type": "quantitative", "scale": {"domain": [-7.2, 6.2], "nice": false, "zero": false}, "axis": {"values": [-6,-4,-2,0,2,4,6], "title": "Correction Rate (%)", "tickCount": 20, "format": "d"}},
      "x2": {"field": "q75"}, "color": {"datum": "IQR (25%–75%)"}}},
    {"mark": {"type": "area", "color": "#f5b5c3", "opacity": 0.55, "clip": true}, "encoding": {"y": {"field": "d", "type": "quantitative"}, "x": {"field": "lo", "type": "quantitative"}, "x2": {"field": "hi"}}},
    {"transform": [{"filter": "datum.d == 5"}], "mark": {"type": "rule", "strokeDash": [2, 1.5], "strokeWidth": 0.8}, "encoding": {"x": {"datum": 0}, "color": {"datum": "Zero reference line"}}},
    {"mark": {"type": "line", "strokeWidth": 1, "clip": true, "point": {"filled": true, "size": 6}}, "encoding": {"y": {"field": "d", "type": "quantitative"}, "x": {"field": "mean", "type": "quantitative"}, "order": {"field": "d"}, "color": {"datum": "Mean"}}},
    {"mark": {"type": "line", "strokeWidth": 1, "clip": true, "point": {"filled": true, "size": 6}}, "encoding": {"y": {"field": "d", "type": "quantitative"}, "x": {"field": "med", "type": "quantitative"}, "order": {"field": "d"}, "color": {"datum": "Median"}}}
   ]}
]
}
